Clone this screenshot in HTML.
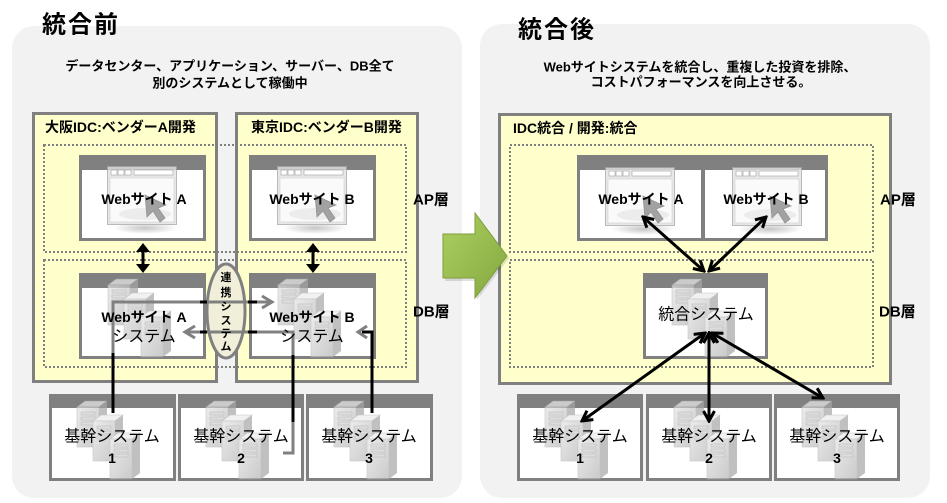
<!DOCTYPE html>
<html><head><meta charset="utf-8">
<style>
html,body{margin:0;padding:0;background:#fff;}
svg{display:block;}
text{font-family:"Liberation Sans","Noto Sans CJK JP",sans-serif;fill:#000;}
.b{font-weight:bold;}
</style></head>
<body>
<svg width="947" height="503" viewBox="0 0 947 503" xmlns="http://www.w3.org/2000/svg">
<defs>
  <linearGradient id="tg" x1="0" y1="0" x2="1" y2="1">
    <stop offset="0" stop-color="#e4e4e4"/><stop offset="1" stop-color="#b4b4b4"/>
  </linearGradient>
  <linearGradient id="gg" x1="0" y1="0" x2="1" y2="1">
    <stop offset="0" stop-color="#acd060"/><stop offset="1" stop-color="#84a83f"/>
  </linearGradient>
  <radialGradient id="sh" cx="0.5" cy="0.5" r="0.5">
    <stop offset="0" stop-color="#999" stop-opacity="0.7"/><stop offset="1" stop-color="#999" stop-opacity="0"/>
  </radialGradient>
  <marker id="ah" viewBox="0 0 14 14" refX="12" refY="7" markerWidth="14" markerHeight="14" markerUnits="userSpaceOnUse" orient="auto-start-reverse">
    <path d="M2,1.5 L12,7 L2,12.5" fill="none" stroke="#000" stroke-width="3"/>
  </marker>
  <g id="tw">
    <polygon points="0,6 8,0 30,0 22,6" fill="#ececec" stroke="#b0b0b0" stroke-width="0.6"/>
    <rect x="0" y="6" width="22" height="40" fill="url(#tg)" stroke="#b0b0b0" stroke-width="0.6"/>
    <polygon points="22,6 30,0 30,40 22,46" fill="#a6a6a6"/>
    <rect x="4" y="11" width="14" height="3" fill="#cfcfcf" stroke="#999" stroke-width="0.5"/>
    <rect x="4" y="16" width="14" height="3" fill="#cfcfcf" stroke="#999" stroke-width="0.5"/>
    <rect x="4" y="21" width="14" height="3" fill="#cfcfcf" stroke="#999" stroke-width="0.5"/>
  </g>
  <g id="srv" opacity="0.7">
    <use href="#tw" x="0" y="0"/>
    <use href="#tw" x="16" y="14"/>
    <use href="#tw" x="33" y="32"/>
  </g>
  <g id="brw" opacity="0.8">
    <ellipse cx="38" cy="62" rx="32" ry="6" fill="url(#sh)"/>
    <rect x="0.5" y="0.5" width="69" height="58" fill="#e2e2e2" stroke="#a8a8a8"/>
    <rect x="3" y="12" width="64" height="44" fill="#fafafa" stroke="#c4c4c4" stroke-width="0.6"/>
    <rect x="4" y="4" width="6" height="5" fill="#fff" stroke="#999" stroke-width="0.7"/>
    <rect x="11" y="4" width="6" height="5" fill="#fff" stroke="#999" stroke-width="0.7"/>
    <rect x="18" y="4" width="6" height="5" fill="#fff" stroke="#999" stroke-width="0.7"/>
    <rect x="27" y="4" width="39" height="5" fill="#fff" stroke="#999" stroke-width="0.7"/>
    <ellipse cx="38" cy="48" rx="26" ry="6" fill="#e8e8e8"/>
    <polygon points="38,29 40,51 46,45 53,56 58,52 51,42 59,39" fill="#8c8c8c" stroke="#777" stroke-width="0.8"/>
  </g>
</defs>

<!-- panels -->
<rect x="12" y="26" width="450" height="472" rx="22" fill="#f2f2f2"/>
<rect x="480" y="24" width="450" height="474" rx="22" fill="#f2f2f2"/>

<!-- titles -->
<text x="42" y="25" class="b" font-size="24" dominant-baseline="central" letter-spacing="2">統合前</text>
<text x="518" y="30" class="b" font-size="24" dominant-baseline="central" letter-spacing="2">統合後</text>

<text x="230" y="66" class="b" font-size="13" text-anchor="middle" dominant-baseline="central">データセンター、アプリケーション、サーバー、DB全て</text>
<text x="230" y="83" class="b" font-size="13" text-anchor="middle" dominant-baseline="central">別のシステムとして稼働中</text>
<text x="700" y="67" class="b" font-size="13" text-anchor="middle" dominant-baseline="central">Webサイトシステムを統合し、重複した投資を排除、</text>
<text x="701" y="82" class="b" font-size="13" text-anchor="middle" dominant-baseline="central">コストパフォーマンスを向上させる。</text>

<!-- yellow IDC boxes -->
<rect x="33.5" y="113.5" width="183" height="268" fill="#ffffcc" stroke="#808080" stroke-width="3"/>
<rect x="236.5" y="113.5" width="181" height="268" fill="#ffffcc" stroke="#808080" stroke-width="3"/>
<rect x="499.5" y="114.5" width="391" height="269" fill="#ffffcc" stroke="#808080" stroke-width="3"/>

<text x="45" y="127" class="b" font-size="14" dominant-baseline="central">大阪IDC:ベンダーA開発</text>
<text x="251" y="127" class="b" font-size="14" dominant-baseline="central">東京IDC:ベンダーB開発</text>
<text x="513" y="128" class="b" font-size="14" dominant-baseline="central">IDC統合 / 開発:統合</text>

<!-- dotted layers -->
<g fill="none" stroke="#808080" stroke-width="2" stroke-dasharray="2 2">
  <rect x="44" y="145" width="362" height="107"/>
  <rect x="44" y="260" width="362" height="107"/>
  <rect x="510" y="145" width="363" height="107"/>
  <rect x="510" y="260" width="363" height="107"/>
</g>

<text x="413" y="200" class="b" font-size="15" dominant-baseline="central">AP層</text>
<text x="413" y="312" class="b" font-size="15" dominant-baseline="central">DB層</text>
<text x="880" y="200" class="b" font-size="15" dominant-baseline="central">AP層</text>
<text x="879" y="312" class="b" font-size="15" dominant-baseline="central">DB層</text>

<!-- boxes -->
<g fill="#808080">
  <rect x="79" y="155" width="127" height="86"/>
  <rect x="249" y="155" width="127" height="86"/>
  <rect x="79" y="273" width="127" height="86"/>
  <rect x="249" y="273" width="127" height="86"/>
  <rect x="49" y="394" width="127" height="87"/>
  <rect x="178" y="394" width="126" height="87"/>
  <rect x="306" y="394" width="127" height="87"/>
  <rect x="577" y="155" width="251" height="86"/>
  <rect x="643" y="273" width="125" height="86"/>
  <rect x="517" y="394" width="126" height="87"/>
  <rect x="646" y="394" width="126" height="87"/>
  <rect x="774" y="394" width="126" height="87"/>
</g>
<g fill="#fff">
  <rect x="82" y="170" width="121" height="68"/>
  <rect x="252" y="170" width="121" height="68"/>
  <rect x="82" y="288" width="121" height="68"/>
  <rect x="252" y="288" width="121" height="68"/>
  <rect x="52" y="408" width="121" height="70"/>
  <rect x="181" y="408" width="120" height="70"/>
  <rect x="309" y="408" width="121" height="70"/>
  <rect x="580" y="170" width="121" height="68"/>
  <rect x="705" y="170" width="120" height="68"/>
  <rect x="646" y="288" width="119" height="68"/>
  <rect x="520" y="408" width="120" height="70"/>
  <rect x="649" y="408" width="120" height="70"/>
  <rect x="777" y="408" width="120" height="70"/>
</g>

<!-- icons -->
<use href="#brw" x="107" y="166"/>
<use href="#brw" x="277" y="166"/>
<use href="#brw" x="605" y="167"/>
<use href="#brw" x="732" y="167"/>
<use href="#srv" x="108" y="279"/>
<use href="#srv" x="278" y="279"/>
<use href="#srv" x="672" y="279"/>
<use href="#srv" x="77" y="401"/>
<use href="#srv" x="206" y="401"/>
<use href="#srv" x="334" y="401"/>
<use href="#srv" x="545" y="401"/>
<use href="#srv" x="674" y="401"/>
<use href="#srv" x="802" y="401"/>

<!-- oval -->
<ellipse cx="226" cy="311" rx="19" ry="47" fill="#f1eed9" stroke="#808080" stroke-width="3"/>

<!-- left connectors -->
<g fill="none" stroke-width="3">
  <path d="M113 413 V353" stroke="#000"/>
  <path d="M113 353 V302 H200" stroke="#808080"/>
  <path d="M200 302 H207" stroke="#000"/>
  <path d="M207 302 H248" stroke="#808080"/>
  <path d="M248 302 H257" stroke="#000"/>
  <path d="M257 302 H271" stroke="#808080"/>
  <path d="M262 296 L272 302 L262 308" stroke="#808080"/>

  <path d="M283 453 H293 V422" stroke="#808080"/>
  <path d="M293 422 V355" stroke="#000"/>
  <path d="M293 355 V332 H257" stroke="#808080"/>
  <path d="M257 332 H248" stroke="#000"/>
  <path d="M248 332 H207" stroke="#808080"/>
  <path d="M207 332 H200" stroke="#000"/>
  <path d="M200 332 H186" stroke="#808080"/>
  <path d="M195 326 L185 332 L195 338" stroke="#808080"/>

  <path d="M372 413 V332 H362" stroke="#000"/>
  <path d="M367 326 L358 332 L367 338" stroke="#808080"/>

  <path d="M143 250 V266" stroke="#000"/>
  <path d="M313 250 V266" stroke="#000"/>
</g>
<g fill="#000">
  <polygon points="136,252 150,252 143,243"/>
  <polygon points="136,264 150,264 143,273"/>
  <polygon points="306,252 320,252 313,243"/>
  <polygon points="306,264 320,264 313,273"/>
</g>

<!-- right connectors -->
<g stroke="#000" stroke-width="3" fill="none" marker-start="url(#ah)" marker-end="url(#ah)">
  <line x1="643" y1="217" x2="704" y2="271"/>
  <line x1="766" y1="217" x2="709" y2="271"/>
  <line x1="705" y1="333" x2="582" y2="421"/>
  <line x1="709" y1="333" x2="709" y2="421"/>
  <line x1="712" y1="333" x2="823" y2="398"/>
</g>

<!-- green arrow -->
<polygon points="445,237 477,237 477,216 509,258 477,300 477,281 445,281" fill="#000" opacity="0.12"/>
<polygon points="443,234 475,234 475,213 507,256 475,298 475,278 443,278" fill="url(#gg)" stroke="#7c9e3a" stroke-width="1"/>

<!-- oval text -->
<g class="b" font-size="11" text-anchor="middle">
  <text x="226" y="278" class="b" dominant-baseline="central">連</text>
  <text x="226" y="293" class="b" dominant-baseline="central">携</text>
  <text x="226" y="307" class="b" dominant-baseline="central">シ</text>
  <text x="226" y="321" class="b" dominant-baseline="central">ス</text>
  <text x="226" y="334" class="b" dominant-baseline="central">テ</text>
  <text x="226" y="347" class="b" dominant-baseline="central">ム</text>
</g>

<!-- box text -->
<g text-anchor="middle">
  <text x="144" y="199" class="b" font-size="14" dominant-baseline="central">Webサイト A</text>
  <text x="312" y="199" class="b" font-size="14" dominant-baseline="central">Webサイト B</text>
  <text x="144" y="317" class="b" font-size="14" dominant-baseline="central">Webサイト A</text>
  <text x="144" y="337" font-size="16" dominant-baseline="central">システム</text>
  <text x="312" y="317" class="b" font-size="14" dominant-baseline="central">Webサイト B</text>
  <text x="312" y="337" font-size="16" dominant-baseline="central">システム</text>

  <text x="112" y="437" font-size="16" dominant-baseline="central">基幹システム</text>
  <text x="112" y="458" class="b" font-size="14" dominant-baseline="central">1</text>
  <text x="241" y="437" font-size="16" dominant-baseline="central">基幹システム</text>
  <text x="241" y="458" class="b" font-size="14" dominant-baseline="central">2</text>
  <text x="369" y="437" font-size="16" dominant-baseline="central">基幹システム</text>
  <text x="369" y="458" class="b" font-size="14" dominant-baseline="central">3</text>

  <text x="641" y="199" class="b" font-size="14" dominant-baseline="central">Webサイト A</text>
  <text x="766" y="199" class="b" font-size="14" dominant-baseline="central">Webサイト B</text>
  <text x="706" y="315" font-size="16" dominant-baseline="central">統合システム</text>

  <text x="580" y="437" font-size="16" dominant-baseline="central">基幹システム</text>
  <text x="580" y="458" class="b" font-size="14" dominant-baseline="central">1</text>
  <text x="709" y="437" font-size="16" dominant-baseline="central">基幹システム</text>
  <text x="709" y="458" class="b" font-size="14" dominant-baseline="central">2</text>
  <text x="837" y="437" font-size="16" dominant-baseline="central">基幹システム</text>
  <text x="837" y="458" class="b" font-size="14" dominant-baseline="central">3</text>
</g>
</svg>
</body></html>
